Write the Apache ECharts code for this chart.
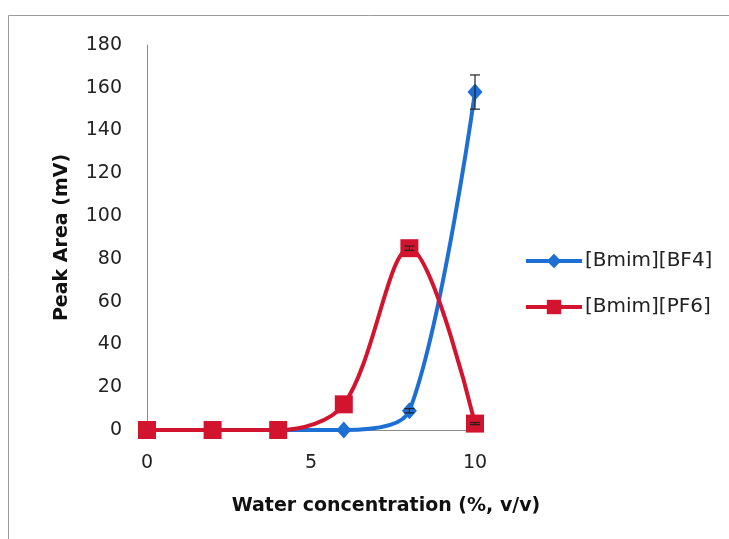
<!DOCTYPE html>
<html><head><meta charset="utf-8">
<script src="https://cdn.jsdelivr.net/npm/echarts@6/dist/echarts.min.js"></script>
<style>html,body{margin:0;padding:0;background:#fff}#c{width:729px;height:539px}</style>
</head><body><div id="c"></div>
<script>
const waterConc = [0, 2, 4, 6, 8, 10];
const bf4 = [0, 0, 0, 0, 9, 158];
const bf4Err = [0, 0, 0, 0, 1, 8];
const pf6 = [0, 0, 0, 12, 85, 3];
const pf6Err = [0, 0, 0, 0, 1, 0.5];
const yTicks = [0, 20, 40, 60, 80, 100, 120, 140, 160, 180];
const xTicks = [0, 5, 10];
const xTitle = 'Water concentration (%, v/v)';
const yTitle = 'Peak Area (mV)';

const blue = '#1d6fd4', red = '#d3142e';
const font = 'DejaVu Sans, sans-serif';

function pairs(ys){ return waterConc.map((x,i)=>[x, ys[i]]); }
function errData(ys, es){ return waterConc.map((x,i)=>[x, ys[i]-es[i], ys[i]+es[i]]).filter((d,i)=>es[i]>0); }
function errRender(params, api){
  const x = api.value(0), lo = api.value(1), hi = api.value(2);
  const p1 = api.coord([x, hi]), p2 = api.coord([x, lo]);
  const w = 5;
  const st = {stroke:'#222', lineWidth:1.2};
  return {type:'group', children:[
    {type:'line', shape:{x1:p1[0],y1:p1[1],x2:p2[0],y2:p2[1]}, style:st},
    {type:'line', shape:{x1:p1[0]-w,y1:p1[1],x2:p1[0]+w,y2:p1[1]}, style:st},
    {type:'line', shape:{x1:p2[0]-w,y1:p2[1],x2:p2[0]+w,y2:p2[1]}, style:st}
  ]};
}

const chart = echarts.init(document.getElementById('c'), null, {renderer:'canvas'});
chart.setOption({
  animation:false,
  backgroundColor:'#fff',
  graphic:[
    {type:'rect', shape:{x:8.5,y:15.5,width:760,height:560}, style:{fill:'none', stroke:'#9a9a9a', lineWidth:1}, z:-1},
    {type:'text', style:{text:xTitle, x:386, y:506, align:'center', verticalAlign:'middle',
      font:'bold 19px DejaVu Sans, sans-serif', fill:'#111'}}
  ],
  grid:{left:147, right:254, top:45, bottom:109},
  xAxis:{type:'value', min:0, max:10, interval:5,
    axisLine:{lineStyle:{color:'#8c8c8c', width:1}}, axisTick:{show:false},
    axisLabel:{fontFamily:font, fontSize:19, color:'#222', margin:24,
      formatter:v=>xTicks.includes(v)?String(v):''},
    splitLine:{show:false}},
  yAxis:{type:'value', min:0, max:180, interval:20,
    name:yTitle, nameLocation:'middle', nameGap:75, nameRotate:90,
    nameTextStyle:{fontFamily:font, fontWeight:'bold', fontSize:19, color:'#111'},
    axisLine:{show:true, lineStyle:{color:'#8c8c8c', width:1}}, axisTick:{show:false},
    axisLabel:{fontFamily:font, fontSize:19, color:'#222', margin:25,
      formatter:v=>yTicks.includes(v)?String(v):''},
    splitLine:{show:false}},
  legend:{orient:'vertical', left:519, top:246, itemGap:26, itemWidth:56, itemHeight:18,
    lineStyle:{width:4},
    textStyle:{fontFamily:font, fontSize:20, color:'#222', padding:[0,0,0,-2]},
    data:['[Bmim][BF4]','[Bmim][PF6]']},
  series:[
    {name:'[Bmim][BF4]', type:'line', data:pairs(bf4), smooth:0.3,
      symbol:'diamond', symbolSize:[15,17], lineStyle:{color:blue, width:4},
      itemStyle:{color:blue}, z:2},
    {name:'[Bmim][PF6]', type:'line', data:pairs(pf6), smooth:0.33,
      symbol:'rect', symbolSize:18, lineStyle:{color:red, width:4},
      itemStyle:{color:red}, z:3},
    {type:'custom', data:errData(bf4, bf4Err), renderItem:errRender, z:5, silent:true},
    {type:'custom', data:errData(pf6, pf6Err), renderItem:errRender, z:5, silent:true}
  ]
});
</script></body></html>
